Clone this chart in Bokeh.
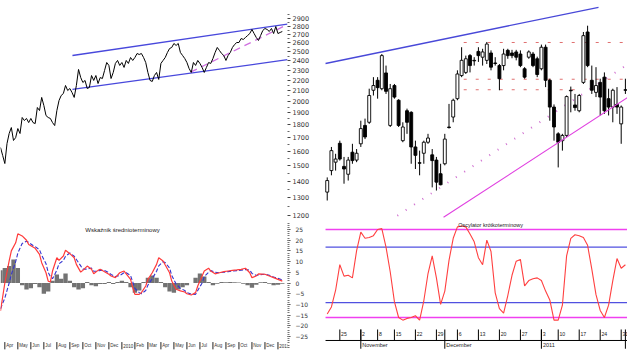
from bokeh.plotting import figure
from bokeh.layouts import gridplot
from bokeh.models import Range1d, FixedTicker, ColumnDataSource, BasicTickFormatter
from bokeh.core.properties import value
from bokeh.embed import file_html
from bokeh.resources import INLINE

FONT = "DejaVu Sans"
SANS = "Liberation Sans"

# ---------------- left: long-term index (log scale) ----------------
lt_price = [1627, 1570, 1514, 1656, 1732, 1779, 1679, 1701, 1771, 1732,
            1861, 1836, 1853, 1819, 1853, 1819, 1811, 1946, 1920, 2036,
            1964, 1877, 1861, 1853, 1819, 1795, 1920, 2008, 2054, 2072,
            2148, 2100, 2119, 2081, 2036, 2148, 2308, 2226, 2177, 2197,
            2119, 2129, 2246, 2197, 2246, 2167, 2226, 2216, 2297, 2381,
            2350, 2216, 2277, 2371, 2403, 2350, 2381, 2329, 2403, 2371,
            2435, 2403, 2435, 2479, 2468, 2479, 2435, 2381, 2277, 2197,
            2187, 2246, 2277, 2207, 2371, 2403, 2435, 2490, 2535, 2547,
            2593, 2570, 2593, 2490, 2457, 2424, 2381, 2318, 2277, 2381,
            2350, 2403, 2371, 2329, 2277, 2329, 2381, 2371, 2424, 2490,
            2547, 2513, 2479, 2457, 2403, 2457, 2490, 2547, 2581, 2604,
            2604, 2651, 2640, 2663, 2687, 2711, 2761, 2711, 2663, 2628,
            2687, 2748, 2773, 2761, 2736, 2773, 2711, 2798, 2711, 2724,
            2736]
lt_idx = list(range(len(lt_price)))

price_ticks = [1200, 1300, 1400, 1500, 1600, 1700, 1800, 1900, 2000,
               2100, 2200, 2300, 2400, 2500, 2600, 2700, 2800, 2900]
price_minor = [1250, 1350, 1450, 1550, 1650, 1750, 1850, 1950, 2050,
               2150, 2250, 2350, 2450, 2550, 2650, 2750, 2850, 2950]

# channel (upper, lower) and rising support
chan_x0 = [33.2, 33.2]
chan_y0 = [2457, 2110]
chan_x1 = [132.4, 132.4]
chan_y1 = [2829, 2411]
supp_x = [87.7, 132.4]
supp_y = [2280, 2823]

# ---------------- left: medium-term oscillator ----------------
osc_idx = [0, 2, 4, 5, 7, 8, 10, 12, 13, 15, 16, 18, 19, 21, 22, 23, 24, 26, 27, 29,
           30, 32, 34, 35, 37, 38, 40, 42, 43, 45, 46, 48, 50, 51, 53, 55, 57, 58, 60, 61,
           62, 64, 65, 67, 68, 70, 72, 73, 75, 76, 78, 79, 81, 83, 85, 86, 88, 90, 91, 93,
           94, 96, 97, 99, 101, 103, 105, 107, 109, 111, 113, 115, 116, 118, 119, 122, 124,
           126, 128, 130]
osc_red = [-13, 0, 10.3, 15, 18.8, 23, 22, 20, 18, 16.8, 16.2, 13.4, 9.5, 4.8, 0.9, 0.5,
           5.6, 11.8, 10.6, 12.6, 15.3, 13.7, 11.8, 8.7, 5.1, 5.9, 7.9, 6.4, 4.3, 5.9, 6.4,
           5.3, 4.1, 3.3, 2.5, 4.8, 5.6, 4.3, 1.7, -2.2, -5.3, -5.3, -4.5, -1.4, 1.7, 4.8,
           8.7, 11.8, 10.3, 8.4, 4.8, 0.9, -2.9, -3.7, -4.2, -5, -5.6, -4.5, -1.4, 3.3, 5.6,
           6.9, 5.6, 4.3, 4.8, 5.3, 5.6, 5.9, 6.1, 6.4, 6.9, 4.8, 2.5, 3.3, 4.3, 4.1, 3.3,
           2.5, 1.7, 0.9]
osc_blue = [-12, -7, 0, 4, 10, 14, 18.5, 19.5, 19, 17.5, 17, 15.5, 13, 9, 5, 3, 2, 6, 9,
            10.5, 12.5, 14, 12.5, 11, 8, 6.5, 6.5, 7, 5.5, 5.5, 6, 5.8, 4.8, 4, 3, 3.5, 4.8,
            4.8, 3.5, 0.5, -2.5, -4.5, -5, -3.5, -1, 2, 5.5, 8, 10, 9.5, 7, 3.5, -0.5, -2.5,
            -3.5, -4.5, -5.2, -5.3, -3.5, 0, 3, 5, 5.8, 5, 4.8, 5, 5.3, 5.6, 5.8, 6, 6.3, 6,
            4.5, 3.5, 3.8, 4.1, 3.6, 2.8, 2.2, 1.4]
hist_idx = list(range(0, 131, 2))
hist_val = [6, 7, 8, 11, 7, -1, -3, -2.5, -0.5, -2, -5, -4, 1, 4, 2, 4.5, 1, -2, -3, -2.5,
            0.5, -1, -1.5, -0.5, -0.5, 0.5, -0.5, 0.5, 1, 0.5, -2, -4.5, -3.5, 0.5, 2.5, 3.5,
            2.5, 0.5, -2, -4, -4.5, -3, -2, -1, 0, 2.5, 4.5, 3, 0.5, -1, -0.3, 0.5, 0.3, 0.5,
            0.3, 0.2, -0.3, -1, -2.2, -0.8, 0.3, 0.5, -0.3, -1, -0.8, -0.3]
osc_ticks = [-25, -20, -15, -10, -5, 0, 5, 10, 15, 20, 25]
osc_minor = list(range(-30, 31))
lb_tick_idx = [2, 8, 14, 20, 26, 32, 38, 44, 50, 56, 62, 68, 74, 80, 86, 92, 98, 104,
               110, 116, 122, 128]
lb_tick_lbl = ["Apr", "May", "Jun", "Jul", "Aug", "Sep", "Oct", "Nov", "Dec", "2010",
               "Feb", "Mar", "Apr", "May", "Jun", "Jul", "Aug", "Sep", "Oct", "Nov",
               "Dec", "2011"]

# ---------------- right: daily candles (20 Oct 2010 - 1 Feb 2011) ----------------
rt_open = [2485, 2526, 2542, 2578, 2534, 2519, 2561, 2546, 2577, 2612, 2618, 2679, 2698,
           2682, 2712, 2612, 2688, 2660, 2583, 2640, 2637, 2571, 2541, 2559, 2580, 2556,
           2546, 2520, 2539, 2609, 2628, 2663, 2707, 2713, 2745, 2736, 2753, 2742, 2736,
           2750, 2731, 2726, 2726, 2755, 2750, 2752, 2748, 2720, 2742, 2748, 2739, 2720,
           2761, 2698, 2647, 2596, 2583, 2593, 2679, 2651, 2640, 2694, 2790, 2698, 2675,
           2694, 2704, 2663, 2647, 2652, 2615, 2680]
rt_high = [2513, 2571, 2558, 2583, 2552, 2552, 2577, 2567, 2621, 2625, 2682, 2704, 2704,
           2748, 2726, 2691, 2691, 2662, 2618, 2644, 2639, 2583, 2564, 2583, 2596, 2567,
           2552, 2539, 2596, 2653, 2663, 2717, 2761, 2745, 2748, 2742, 2761, 2758, 2771,
           2755, 2742, 2729, 2758, 2758, 2756, 2756, 2755, 2723, 2755, 2752, 2743, 2766,
           2766, 2701, 2652, 2599, 2596, 2669, 2686, 2672, 2672, 2790, 2802, 2726, 2723,
           2701, 2713, 2682, 2682, 2685, 2650, 2701]
rt_low = [2469, 2517, 2526, 2545, 2501, 2507, 2539, 2542, 2571, 2586, 2615, 2669, 2663,
          2679, 2672, 2609, 2663, 2609, 2580, 2596, 2539, 2529, 2517, 2539, 2577, 2494,
          2488, 2498, 2536, 2606, 2618, 2660, 2704, 2710, 2713, 2726, 2733, 2726, 2729,
          2717, 2726, 2679, 2717, 2739, 2740, 2736, 2723, 2701, 2739, 2723, 2704, 2717,
          2685, 2621, 2583, 2532, 2564, 2590, 2637, 2640, 2637, 2691, 2723, 2672, 2666,
          2631, 2634, 2631, 2618, 2634, 2577, 2672]
rt_close = [2507, 2564, 2548, 2548, 2529, 2546, 2545, 2559, 2606, 2590, 2669, 2688, 2684,
            2745, 2677, 2682, 2666, 2612, 2609, 2618, 2571, 2555, 2540, 2580, 2588, 2545,
            2504, 2499, 2586, 2608, 2660, 2710, 2736, 2739, 2726, 2735, 2745, 2752, 2767,
            2723, 2730, 2701, 2748, 2745, 2745, 2742, 2726, 2704, 2752, 2726, 2709, 2761,
            2698, 2647, 2609, 2580, 2593, 2667, 2678, 2646, 2669, 2783, 2726, 2679, 2688,
            2666, 2640, 2647, 2679, 2647, 2647, 2679]
rt_idx = list(range(len(rt_open)))

res_level = [2770, 2700, 2680]
res_x0 = [32.5, 32.5, 32.5]
res_x1 = [71.5, 71.5, 61.0]
upper_x = [-0.4, 64.6]
upper_y = [2730, 2837]
trend_x = [27.7, 71.5]
trend_y = [2437, 2665]
dot_x = [16.7, 71.5]
dot_y = [2440, 2728]

# ---------------- right: short-term oscillator ----------------
so_val = [4, 12, 31, 60, 47, 48, 45, 76, 97, 90, 91, 93, 100, 101, 80, 52, 18, 0, -3, -1,
          0, 2, -3, 19, 50, 70, 45, 15, 30, 65, 90, 103, 104, 103, 95, 86, 68, 60, 88, 75,
          28, 10, 5, 25, 48, 64, 66, 36, 42, 44, 45, 42, 30, 20, -3, -3, 14, 70, 90, 94,
          93, 91, 82, 55, 26, 8, 0, 14, 42, 67, 56, 60]
so_levels = [100, 80, 17, 0]
so_level_colors = ["#f040f0", "#5050e0", "#5050e0", "#f040f0"]
week_idx = [3, 8, 12, 16, 21, 26, 31, 36, 41, 46, 51, 55, 60, 65, 70]
week_lbl = ["25", "2", "8", "15", "22", "29", "6", "13", "20", "27", "3", "10", "17", "24", "31"]
month_idx = [8, 28, 51, 71]
month_lbl = ["November", "December", "2011", ""]

TOP_H = 221
BOT_H = 132


def base(p):
    p.outline_line_color = None
    p.xgrid.visible = False
    p.ygrid.visible = False
    p.background_fill_color = "white"
    p.border_fill_color = "white"


# ---- left top
lt = figure(width=320, height=TOP_H, x_range=Range1d(0, 132.4), y_range=Range1d(1167.7, 3143.6),
            y_axis_type="log", output_backend="svg", toolbar_location=None,
            x_axis_location=None, y_axis_location="right",
            min_border_left=0, min_border_top=0, min_border_bottom=0, min_border_right=33)
base(lt)
ya = lt.yaxis[0]
ya.ticker = FixedTicker(ticks=price_ticks, minor_ticks=price_minor)
ya.formatter = BasicTickFormatter(use_scientific=False)
ya.axis_line_color = None
ya.major_tick_out = 3
ya.major_tick_in = 0
ya.minor_tick_out = 2
ya.minor_tick_in = 0
ya.major_tick_line_color = "#444"
ya.minor_tick_line_color = "#666"
ya.major_label_standoff = 2
ya.major_label_text_font = FONT
ya.major_label_text_font_size = "6.5px"
ya.major_label_text_color = "#333"
lt.segment(x0=chan_x0, y0=chan_y0, x1=chan_x1, y1=chan_y1, line_color="#4848dc", line_width=1.3)
lt.line(supp_x, supp_y, line_color="#d070e0", line_width=1.3, line_dash="7 5")
lt.line(lt_idx, lt_price, line_color="black", line_width=1.0)

# ---- left bottom
lb = figure(width=320, height=BOT_H, x_range=lt.x_range, y_range=Range1d(-32.94, 28.74),
            output_backend="svg", toolbar_location=None,
            x_axis_location=None, y_axis_location="right",
            min_border_left=0, min_border_top=0, min_border_bottom=0, min_border_right=33)
base(lb)
yb = lb.yaxis[0]
yb.ticker = FixedTicker(ticks=osc_ticks, minor_ticks=osc_minor)
yb.axis_line_color = None
yb.major_tick_out = 3
yb.major_tick_in = 0
yb.minor_tick_out = 2
yb.minor_tick_in = 0
yb.major_tick_line_color = "#444"
yb.minor_tick_line_color = "#777"
yb.major_label_standoff = 5
yb.major_label_text_font = FONT
yb.major_label_text_font_size = "6px"
yb.major_label_text_color = "#333"
lb.vbar(x=hist_idx, top=hist_val, bottom=0, width=2.0, fill_color="#737373", line_color=None)
lb.line(osc_idx, osc_blue, line_color="#3434d0", line_width=1.1, line_dash="4 2")
lb.line(osc_idx, osc_red, line_color="#ff3a3a", line_width=1.2)
lb.text(x=[56.3], y=[25], text=["Wskaźnik średnioterminowy"], text_font=value(SANS),
        text_font_size="6px", text_align="center", text_baseline="middle", text_color="#222")
lb.segment(x0=lb_tick_idx, y0=[-27.6] * len(lb_tick_idx), x1=lb_tick_idx,
           y1=[-31.0] * len(lb_tick_idx), line_color="#222", line_width=1)
lb.text(x=[i + 0.6 for i in lb_tick_idx], y=[-29.3] * len(lb_tick_idx), text=lb_tick_lbl,
        text_font=value(SANS), text_font_size="4.5px", text_align="left",
        text_baseline="middle", text_color="#333")

# ---- right top
rt = figure(width=307, height=TOP_H, x_range=Range1d(-1.6, 71.5), y_range=Range1d(2429.0, 2850),
            output_backend="svg", toolbar_location=None,
            x_axis_location=None, y_axis_location=None, min_border=0)
base(rt)
rt.segment(x0=upper_x[0], y0=upper_y[0], x1=upper_x[1], y1=upper_y[1], line_color="#4848d8",
           line_width=1.3)
rt.segment(x0=res_x0, y0=res_level, x1=res_x1, y1=res_level, line_color="#e07070",
           line_width=1, line_dash="3 9")
rt.line(dot_x, dot_y, line_color="#d070d0", line_width=2, line_dash="1 9")
src = ColumnDataSource(dict(
    x=rt_idx,
    high=rt_high,
    low=rt_low,
    top=[max(o, c) for o, c in zip(rt_open, rt_close)],
    bottom=[min(o, c) for o, c in zip(rt_open, rt_close)],
    fill=["white" if c >= o else "black" for o, c in zip(rt_open, rt_close)],
))
rt.segment(x0="x", y0="low", x1="x", y1="high", source=src, line_color="black", line_width=1)
rt.vbar(x="x", top="top", bottom="bottom", width=0.7, fill_color="fill", line_color="black",
        line_width=0.9, source=src)
rt.line(trend_x, trend_y, line_color="#e040e0", line_width=1.1)

# ---- right bottom
rb = figure(width=307, height=BOT_H, x_range=rt.x_range, y_range=Range1d(-40.9, 109.1),
            output_backend="svg", toolbar_location=None,
            x_axis_location=None, y_axis_location=None, min_border=0)
base(rb)
rb.segment(x0=[-0.4] * 4, y0=so_levels, x1=[71.5] * 4, y1=so_levels,
           line_color=so_level_colors, line_width=1.3)
rb.line(rt_idx, so_val, line_color="#ff4040", line_width=1.1)
rb.text(x=[38.9], y=[105.4], text=["Oscylator krótkoterminowy"], text_font=value(SANS),
        text_font_size="5.5px", text_align="center", text_baseline="middle", text_color="#222")
rb.segment(x0=[-0.4], y0=[-26.1], x1=[71.5], y1=[-26.1], line_color="black", line_width=1)
rb.segment(x0=week_idx, y0=[-13.6] * len(week_idx), x1=week_idx, y1=[-26.1] * len(week_idx),
           line_color="black", line_width=1)
rb.segment(x0=month_idx, y0=[-13.6] * len(month_idx), x1=month_idx,
           y1=[-35.5] * len(month_idx), line_color="black", line_width=1)
rb.text(x=[i + 0.3 for i in week_idx], y=[-19.3] * len(week_idx), text=week_lbl,
        text_font=value(SANS), text_font_size="5.2px", text_align="left",
        text_baseline="middle", text_color="#222")
rb.text(x=[i + 0.35 for i in month_idx], y=[-30.7] * len(month_idx), text=month_lbl,
        text_font=value(SANS), text_font_size="5.5px", text_align="left",
        text_baseline="middle", text_color="#222")

grid = gridplot([[lt, rt], [lb, rb]], toolbar_location=None)

open("out.html", "w").write(file_html(grid, INLINE))
